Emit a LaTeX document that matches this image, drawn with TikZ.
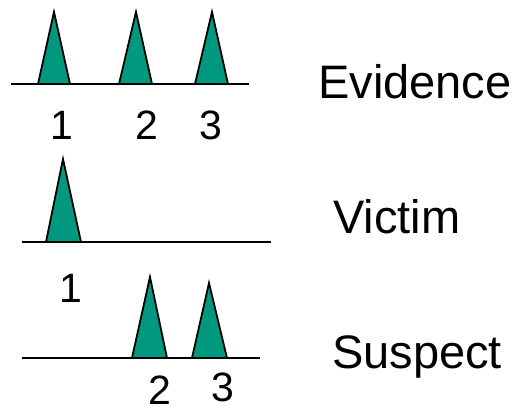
\documentclass[tikz,border=0pt]{standalone}
\usepackage{fontspec}
\setmainfont{Liberation Sans}
\definecolor{peakgreen}{RGB}{0,153,128}
\tikzset{
  peak/.style={fill=peakgreen, draw=black, line width=1.8pt, line join=miter},
  trace/.style={line width=1.8pt},
  sample/.style={font=\fontsize{47}{50}\selectfont, anchor=base west, inner sep=0pt},
  allele/.style={font=\fontsize{41}{44}\selectfont, anchor=base, inner sep=0pt}
}

\begin{document}
\begin{tikzpicture}[x=1pt,y=-1pt]
    \useasboundingbox (0,0) rectangle (516,414);
    % Evidence profile
    \draw[trace] (11,84) -- (249,84);
    \foreach \l/\m/\r in {38/54/70, 119/136/152, 195/212/228}
        \draw[peak] (\l,84) -- (\m,12) -- (\r,84) -- cycle;
    \node[allele] (e1) at (62,140) {1};
    \node[allele] (e2) at (147,140) {2};
    \node[allele] (e3) at (211,140) {3};
    \node[sample] (evidence) at (318,99) {Evidence};
    % Victim profile
    \draw[trace] (22,242) -- (271,242);
    \draw[peak] (46,242) -- (63,159) -- (81,242) -- cycle;
    \node[allele] (v1) at (71,302) {1};
    \node[sample] (victim) at (333,233) {Victim};
    % Suspect profile
    \draw[trace] (22,358) -- (260,358);
    \foreach \l/\m/\r/\h in {132/150/167/277, 192/209/227/283}
        \draw[peak] (\l,358) -- (\m,\h) -- (\r,358) -- cycle;
    \node[allele] (s2) at (160,404) {2};
    \node[allele] (s3) at (223,401) {3};
    \node[sample] (suspect) at (332,368) {Suspect};
\end{tikzpicture}
\end{document}
